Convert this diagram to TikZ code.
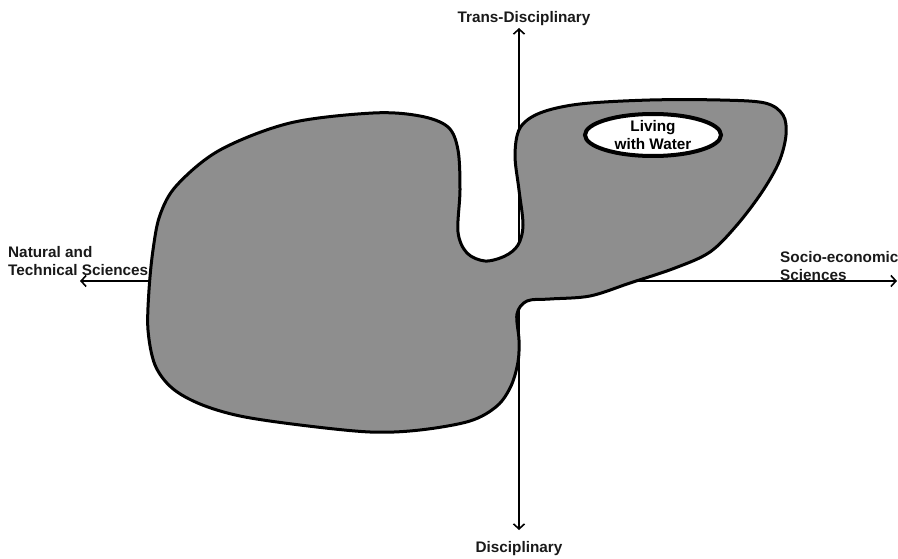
\documentclass[tikz,border=0pt]{standalone}
\usepackage{fontspec}
\setmainfont{Liberation Sans}
\usetikzlibrary{arrows.meta,shapes.geometric}
\definecolor{blobgray}{RGB}{142,142,142}
\begin{document}
\begin{tikzpicture}[x=1pt,y=-1pt,
  axis/.style={line width=1.6pt,{Straight Barb[length=5pt,width=11pt,line width=1.6pt]}-{Straight Barb[length=5pt,width=11pt,line width=1.6pt]}},
  blob/.style={line width=3pt,fill=blobgray,draw=black},
  lbl/.style={font=\bfseries\fontsize{15.3}{18}\selectfont,inner sep=0pt,text=black!90},
  goal/.style={ellipse,draw=black,line width=4pt,fill=white,minimum width=136pt,minimum height=42pt,inner sep=0pt,align=center,font=\bfseries\fontsize{15.3}{18}\selectfont}]
\useasboundingbox (0,0) rectangle (898,559);
\coordinate (top) at (519,28);
\coordinate (bot) at (519,530);
\coordinate (lft) at (80,281);
\coordinate (rgt) at (897,281);
\draw[axis] (bot) -- (top);
\draw[axis] (lft) -- (rgt);
\draw[blob] plot[smooth cycle,tension=0.55] coordinates {
 (220,150) (290,123) (373,113) (420,116) (448,127) (458,150) (460,190) (458,232)
 (467,253) (485,261) (505,256) (518,245) (523,225) (519,190) (515,155) (520,128)
 (540,113) (580,104) (650,100) (720,100) (765,103) (783,115) (786,135) (779,162)
 (762,192) (737,225) (710,252) (675,268) (630,283) (590,296) (550,299) (527,301)
 (517,314) (519,340) (518,362) (511,386) (497,406) (470,421) (420,430) (370,432)
 (300,425) (240,416) (200,404) (172,388) (155,365) (148,330) (149,290) (153,250)
 (160,215) (177,185)};
\node[goal] (lww) at (653,135) {Living\\with Water};
\node[lbl,anchor=base] (td) at (524,23) {Trans-Disciplinary};
\node[lbl,anchor=base] (dis) at (519,552) {Disciplinary};
\node[lbl,anchor=base west,align=left] (nat) at (8,276) {Natural and\\Technical Sciences};
\node[lbl,anchor=base west,align=left] (soc) at (780,280) {Socio-economic\\Sciences};
\end{tikzpicture}
\end{document}
